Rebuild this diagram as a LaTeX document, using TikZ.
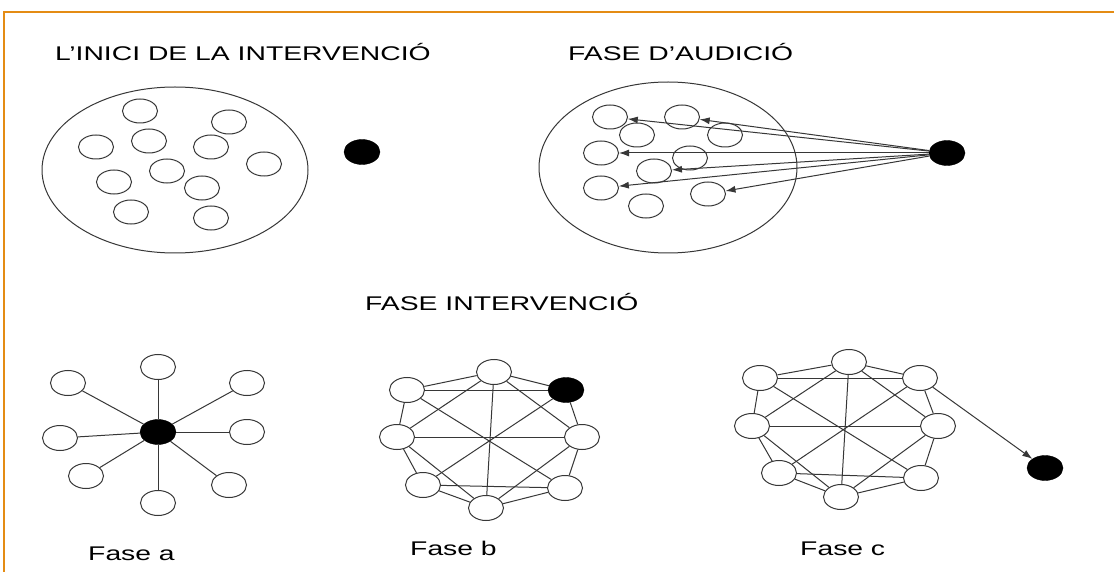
\documentclass[tikz,border=0pt]{standalone}
\usepackage{fontspec}
\setmainfont{Liberation Sans}
\newfontfamily\widefont[FakeStretch=1.43]{Liberation Sans}
\usetikzlibrary{shapes.geometric,arrows.meta}
\definecolor{frameorange}{RGB}{228,140,20}
\definecolor{edgegray}{RGB}{55,55,55}
\begin{document}
\begin{tikzpicture}[x=1pt,y=-1pt,
  sm/.style={ellipse,draw=edgegray,line width=1pt,minimum width=35pt,minimum height=24pt,inner sep=0pt},
  smb/.style={sm,minimum height=25pt},
  dot/.style={ellipse,fill=black,draw=black,minimum width=36pt,minimum height=25pt,inner sep=0pt},
  big/.style={ellipse,draw=edgegray,line width=1pt,inner sep=0pt},
  lbl/.style={anchor=base west,inner sep=0pt,text=black,font=\widefont\fontsize{19.8}{22}\selectfont},
  link/.style={draw=edgegray,line width=1pt},
  arr/.style={link,-{Latex[length=10pt,width=7pt]}},
  frame/.style={draw=frameorange,line width=2pt}]
\useasboundingbox (0,0) rectangle (1114,572);
\fill[white] (0,0) rectangle (1114,572);
% frame
\coordinate (fbl) at (4,572);
\coordinate (ftl) at (4,12);
\coordinate (ftr) at (1114,12);
\draw[frame] (fbl) -- (ftl) -- (ftr);

% titles
\node[lbl] (t1) at (55,60.5) {L’INICI DE LA INTERVENCIÓ};
\node[lbl] (t2) at (568,60.5) {FASE D’AUDICIÓ};
\node[lbl] (t3) at (365,310.5) {FASE INTERVENCIÓ};
\node[lbl] (la) at (88,560) {Fase a};
\node[lbl] (lb) at (410,555) {Fase b};
\node[lbl] (lc) at (800,555) {Fase c};

% ---- L'inici
\node[big,minimum width=266pt,minimum height=166pt] (E1) at (175,170) {};
\node[sm] (p1) at (140,111) {};
\node[sm] (p2) at (229,122) {};
\node[sm] (p3) at (96,147) {};
\node[sm] (p4) at (149,141) {};
\node[sm] (p5) at (211,147) {};
\node[sm] (p6) at (264,164) {};
\node[sm] (p7) at (167,171) {};
\node[sm] (p8) at (114,182) {};
\node[sm] (p9) at (202,188) {};
\node[sm] (p10) at (131,212) {};
\node[sm] (p11) at (211,218) {};
\node[dot] (D1) at (362,152) {};

% ---- Fase d'audicio
\node[big,minimum width=258pt,minimum height=171pt] (E2) at (668,167.5) {};
\node[sm] (qa) at (610,117) {};
\node[sm] (qb) at (682,117) {};
\node[sm] (qc) at (637,135) {};
\node[sm] (qd) at (725,135) {};
\node[sm] (qe) at (601,153) {};
\node[sm] (qf) at (690,158) {};
\node[sm] (qg) at (654,171) {};
\node[sm] (qh) at (601,188) {};
\node[sm] (qi) at (708,194) {};
\node[sm] (qj) at (646,206) {};
\node[dot] (D2) at (947,153) {};
\foreach \t in {qb,qa,qe,qg,qh,qi}
  \draw[arr] (D2) -- (\t);

% ---- Fase a
\node[dot] (A0) at (158,432) {};
\node[smb] (A1) at (158,367) {};
\node[smb] (A2) at (68,383) {};
\node[smb] (A3) at (247,383) {};
\node[smb] (A4) at (60,438) {};
\node[smb] (A5) at (247,432) {};
\node[smb] (A6) at (86,476) {};
\node[smb] (A7) at (158,503) {};
\node[smb] (A8) at (229,485) {};
\foreach \t in {A1,A2,A3,A4,A5,A6,A7,A8}
  \draw[link] (A0) -- (\t);

% ---- Fase b
\node[smb] (Bt) at (494,372) {};
\node[smb] (Btl) at (407,390) {};
\node[dot] (Btr) at (566,390) {};
\node[smb] (Bl) at (397,437) {};
\node[smb] (Br) at (582,437) {};
\node[smb] (Bbl) at (423,485) {};
\node[smb] (Bbr) at (565,488) {};
\node[smb] (Bb) at (486,508) {};
\foreach \u/\v in {Bt/Btl,Bt/Btr,Btl/Bl,Btr/Br,Bl/Bbl,Br/Bbr,Bbl/Bb,Bb/Bbr,
                   Btl/Btr,Bl/Br,Bt/Bb,Bt/Bl,Bt/Br,Btl/Bbr,Btr/Bbl,Bl/Bb,Br/Bb,Bbl/Bbr}
  \draw[link] (\u) -- (\v);

% ---- Fase c
\node[smb] (Ct) at (849,362) {};
\node[smb] (Ctl) at (760,378) {};
\node[smb] (Ctr) at (920,378) {};
\node[smb] (Cl) at (752,426) {};
\node[smb] (Cr) at (938,426) {};
\node[smb] (Cbl) at (779,473) {};
\node[smb] (Cbr) at (921,478) {};
\node[smb] (Cb) at (841,497) {};
\node[dot] (Cx) at (1045,468) {};
\foreach \u/\v in {Ct/Ctl,Ct/Ctr,Ctl/Cl,Ctr/Cr,Cl/Cbl,Cr/Cbr,Cbl/Cb,Cb/Cbr,
                   Ctl/Ctr,Cl/Cr,Ct/Cb,Ct/Cl,Ct/Cr,Ctl/Cbr,Ctr/Cbl,Cl/Cb,Cr/Cb,Cbl/Cbr}
  \draw[link] (\u) -- (\v);
\draw[arr] (Ctr) -- (Cx);
\end{tikzpicture}
\end{document}
